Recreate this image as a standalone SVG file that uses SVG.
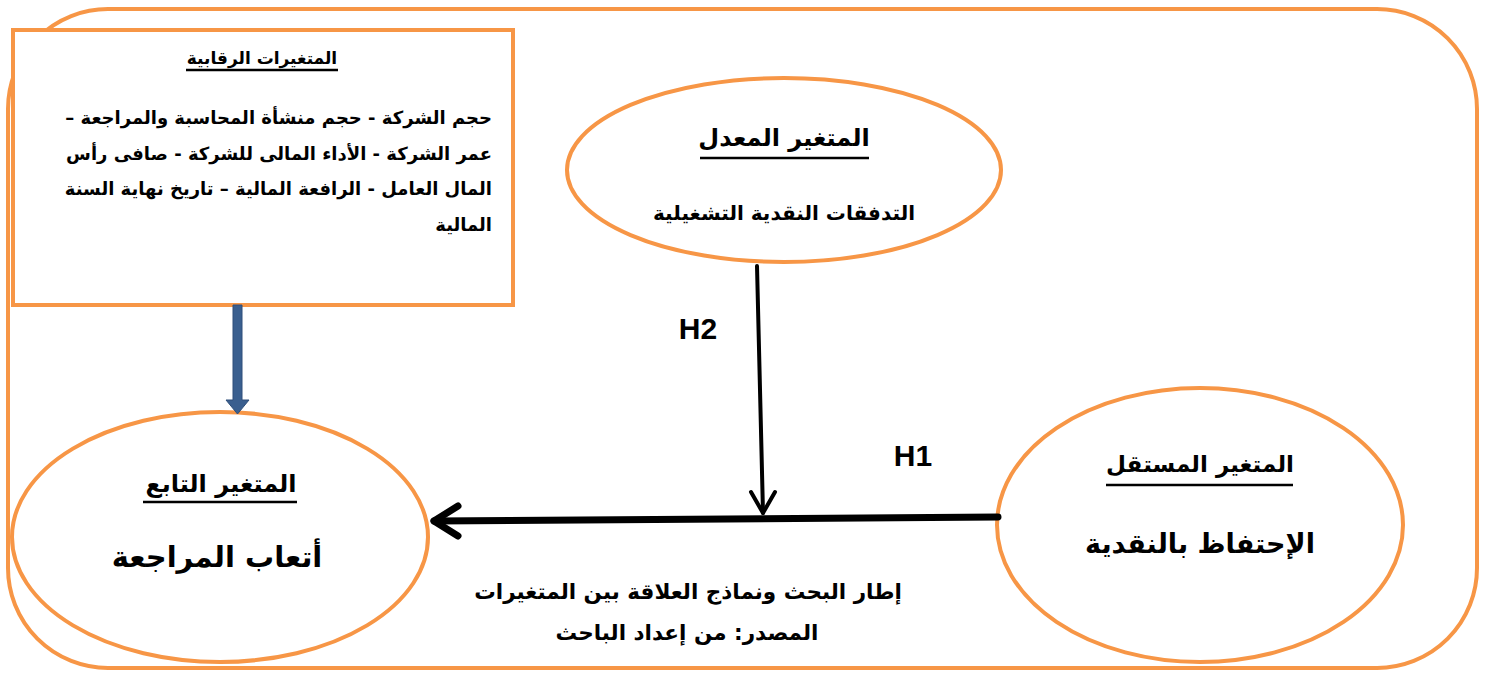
<svg xmlns="http://www.w3.org/2000/svg" width="1487" height="673" viewBox="0 0 1487 673">
<defs>
<style>
.frame{fill:none;stroke:#F79646;stroke-width:4}
.node{fill:#FFFFFF;stroke:#F79646;stroke-width:4}
.ar{font-family:"DejaVu Sans","Noto Sans",sans-serif;font-weight:bold;fill:#000000}
.ul{stroke:#000000;stroke-width:2.5}
.lat{font-family:"Liberation Sans",Arial,sans-serif;font-weight:bold;fill:#000000;font-size:30px;text-anchor:middle}
.conn{fill:none;stroke:#000000;stroke-linecap:round;stroke-linejoin:round}
</style>
</defs>
<rect class="frame" x="8" y="9" width="1469" height="659" rx="100" ry="100"/>

<g id="control">
<rect class="node" x="13" y="30" width="500" height="275"/>
<text class="ar" x="262" y="64" font-size="17" text-anchor="middle" direction="rtl">المتغيرات الرقابية</text>
<line class="ul" x1="186" y1="70" x2="338" y2="70"/>
<text class="ar" x="492" y="124" font-size="18" direction="rtl" text-anchor="start">حجم الشركة - حجم منشأة المحاسبة والمراجعة –</text>
<text class="ar" x="492" y="160" font-size="18" direction="rtl" text-anchor="start">عمر الشركة - الأداء المالى للشركة - صافى رأس</text>
<text class="ar" x="492" y="195" font-size="18" direction="rtl" text-anchor="start">المال العامل - الرافعة المالية –  تاريخ نهاية السنة</text>
<text class="ar" x="492" y="231" font-size="18" direction="rtl" text-anchor="start">المالية</text>
</g>

<g id="moderator">
<ellipse class="node" cx="784" cy="170" rx="217" ry="92"/>
<text class="ar" x="784" y="146" font-size="24" text-anchor="middle" direction="rtl">المتغير المعدل</text>
<line class="ul" x1="700" y1="158" x2="869" y2="158"/>
<text class="ar" x="784" y="220" font-size="20" text-anchor="middle" direction="rtl">التدفقات النقدية التشغيلية</text>
</g>

<g id="dependent">
<ellipse class="node" cx="220" cy="537" rx="208" ry="125"/>
<text class="ar" x="221" y="492" font-size="24" text-anchor="middle" direction="rtl">المتغير التابع</text>
<line class="ul" x1="143" y1="502" x2="297" y2="502"/>
<text class="ar" x="217" y="567" font-size="29" text-anchor="middle" direction="rtl">أتعاب المراجعة</text>
</g>

<g id="independent">
<ellipse class="node" cx="1200" cy="525" rx="203" ry="137"/>
<text class="ar" x="1200" y="472" font-size="23" text-anchor="middle" direction="rtl">المتغير المستقل</text>
<line class="ul" x1="1106" y1="485" x2="1293" y2="485"/>
<text class="ar" x="1200" y="553" font-size="27" text-anchor="middle" direction="rtl">الإحتفاظ بالنقدية</text>
</g>

<g id="connectors">
<path d="M233 305 H242 V400 H249 L237.5 414 L226 400 H233 Z" fill="#3A5F8F" stroke="#2F4F7A" stroke-width="1"/>
<path class="conn" d="M998 517 L434 521" stroke-width="7"/>
<path class="conn" d="M458 506 L434 521 L458 536" stroke-width="7"/>
<path class="conn" d="M757 266 L763 513" stroke-width="4"/>
<path class="conn" d="M751 492 L763 513 L775 492" stroke-width="4"/>
<text class="lat" x="698" y="339">H2</text>
<text class="lat" x="913" y="466">H1</text>
</g>

<g id="caption">
<text class="ar" x="688" y="599" font-size="21.5" text-anchor="middle" direction="rtl">إطار البحث ونماذج العلاقة بين المتغيرات</text>
<text class="ar" x="687" y="640" font-size="21.5" text-anchor="middle" direction="rtl">المصدر: من إعداد الباحث</text>
</g>
</svg>
